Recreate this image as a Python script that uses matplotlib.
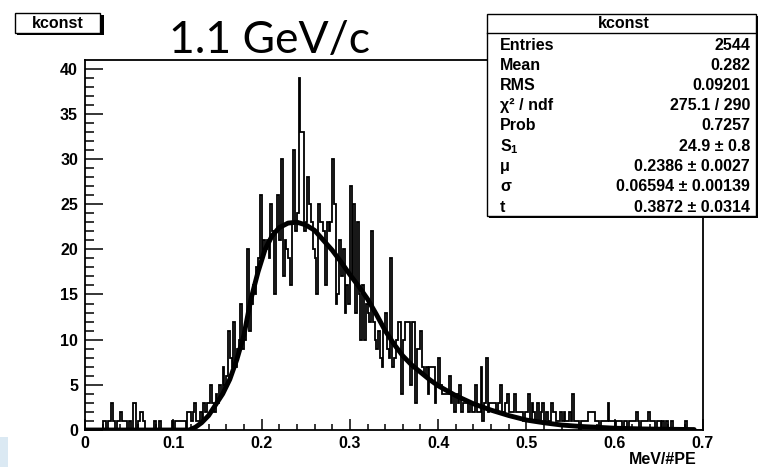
import numpy as np
import matplotlib
matplotlib.use("Agg")
import matplotlib.pyplot as plt
from matplotlib.patches import Rectangle
from matplotlib.ticker import MultipleLocator
from matplotlib.font_manager import FontProperties

plt.rcParams["mathtext.fontset"] = "custom"
plt.rcParams["mathtext.rm"] = "Liberation Sans:bold"
plt.rcParams["mathtext.it"] = "Liberation Sans:bold"
plt.rcParams["mathtext.bf"] = "Liberation Sans:bold"

# ---------------- data ----------------
bin_lo = 0.0
bin_width = 0.002
counts = [
    0, 0, 0, 0, 0, 0, 0, 0, 0, 0,
    1, 1, 0, 1, 1, 3, 1, 0, 1, 1,
    2, 1, 1, 1, 0, 1, 0, 3, 3, 0,
    1, 2, 2, 1, 0, 0, 0, 0, 0, 1,
    0, 0, 1, 0, 0, 0, 0, 0, 0, 1,
    0, 1, 1, 1, 1, 1, 1, 0, 2, 2,
    1, 2, 3, 1, 1, 2, 1, 3, 2, 3,
    3, 5, 3, 2, 4, 3, 5, 4, 7, 5,
    6, 11, 8, 7, 12, 7, 9, 10, 14, 9,
    10, 12, 20, 11, 14, 16, 15, 18, 19, 26,
    19, 21, 20, 21, 19, 25, 22, 15, 22, 26,
    21, 30, 17, 21, 20, 19, 16, 23, 31, 22,
    24, 39, 33, 33, 22, 23, 28, 25, 23, 20,
    19, 15, 25, 23, 23, 22, 16, 23, 22, 23,
    30, 25, 14, 15, 21, 17, 20, 13, 16, 14,
    27, 17, 25, 13, 23, 15, 10, 16, 10, 14,
    13, 12, 22, 12, 10, 9, 11, 8, 7, 11,
    13, 9, 8, 19, 7, 8, 10, 12, 12, 4,
    10, 12, 12, 12, 5, 12, 12, 3, 9, 9,
    11, 7, 6, 7, 4, 7, 7, 7, 3, 5,
    8, 5, 4, 4, 4, 4, 6, 3, 4, 2,
    4, 3, 5, 2, 3, 3, 3, 2, 3, 2,
    2, 5, 2, 2, 7, 1, 3, 8, 2, 3,
    3, 3, 3, 2, 3, 5, 2, 2, 3, 4,
    2, 2, 2, 4, 2, 2, 2, 2, 1, 2,
    2, 4, 1, 3, 2, 1, 3, 1, 2, 3,
    1, 2, 1, 1, 3, 2, 2, 1, 1, 2,
    1, 2, 1, 1, 2, 1, 4, 1, 1, 1,
    0, 1, 1, 1, 1, 2, 2, 2, 2, 1,
    1, 0, 1, 1, 1, 1, 3, 1, 1, 1,
    0, 1, 1, 1, 0, 1, 1, 0, 1, 1,
    1, 1, 2, 1, 0, 1, 1, 1, 1, 2,
    1, 1, 1, 0, 1, 1, 0, 1, 0, 1,
    0, 0, 1, 0, 0, 0, 0, 0, 0, 0,
    1, 0, 0, 0, 0, 0, 0, 0, 0, 0,
]

fit_x = [0.0, 0.118, 0.125, 0.132, 0.140, 0.148, 0.156, 0.164, 0.172, 0.180,
         0.188, 0.196, 0.204, 0.212, 0.220, 0.230, 0.240, 0.250, 0.260, 0.270,
         0.280, 0.290, 0.300, 0.310, 0.320, 0.330, 0.340, 0.350, 0.360, 0.370,
         0.380, 0.390, 0.400, 0.420, 0.440, 0.460, 0.480, 0.500, 0.520, 0.540,
         0.560, 0.580, 0.600, 0.630, 0.660, 0.690]
fit_y = [0.0, 0.0, 0.3, 0.8, 1.6, 2.8, 4.0, 5.6, 7.8, 10.5,
         14.5, 17.5, 20.0, 21.5, 22.4, 22.9, 23.0, 22.7, 22.1, 21.0,
         19.9, 18.6, 17.2, 15.9, 14.5, 12.8, 11.0, 9.5, 8.2, 7.2,
         6.4, 5.6, 4.9, 3.8, 2.9, 2.2, 1.6, 1.1, 0.8, 0.55,
         0.4, 0.3, 0.2, 0.12, 0.08, 0.05]

x_ticks = [0.0, 0.1, 0.2, 0.3, 0.4, 0.5, 0.6, 0.7]
x_tick_labels = ["0", "0.1", "0.2", "0.3", "0.4", "0.5", "0.6", "0.7"]
y_ticks = [0, 5, 10, 15, 20, 25, 30, 35, 40]
y_tick_labels = ["0", "5", "10", "15", "20", "25", "30", "35", "40"]

stat_names = ["Entries", "Mean", "RMS", "χ² / ndf", "Prob",
              r"S$_{1}$", "μ", "σ", "t"]
stat_values = ["2544", "0.282", "0.09201", "275.1 / 290", "0.7257",
               "24.9 ± 0.8", "0.2386 ± 0.0027",
               "0.06594 ± 0.00139", "0.3872 ± 0.0314"]
hist_name = "kconst"
title_text = "1.1 GeV/c"
x_label = "MeV/#PE"

# ---------------- figure ----------------
W, H = 759, 467
fig = plt.figure(figsize=(W / 100, H / 100), dpi=100)
fig.patch.set_facecolor("white")

def fx(x):
    return x / W

def fy(y):
    return 1 - y / H

ax = fig.add_axes([fx(85), fy(430), (703 - 85) / W, (430 - 60) / H])
ax.set_xlim(0, 0.7)
ax.set_ylim(0, 40.95)

edges = bin_lo + bin_width * np.arange(len(counts) + 1)
ax.stairs(counts, edges, color="black", lw=1.3, baseline=None)
ax.plot(fit_x, fit_y, color="black", lw=3.5, solid_capstyle="round", zorder=3)

for s in ax.spines.values():
    s.set_linewidth(1.3)
    s.set_color("black")

ax.set_xticks(x_ticks)
ax.set_xticklabels(x_tick_labels)
ax.set_yticks(y_ticks)
ax.set_yticklabels(y_tick_labels)
ax.xaxis.set_minor_locator(MultipleLocator(0.02))
ax.yaxis.set_minor_locator(MultipleLocator(1))
ax.tick_params(axis="x", which="major", direction="in", length=8, width=1.1, pad=4)
ax.tick_params(axis="x", which="minor", direction="in", length=4, width=1.1)
ax.tick_params(axis="y", which="major", direction="in", length=13, width=1.1, pad=5)
ax.tick_params(axis="y", which="minor", direction="in", length=6.5, width=1.1)
tick_fp = FontProperties(family="Liberation Sans", weight="bold", size=11.5)
for lab in ax.get_xticklabels() + ax.get_yticklabels():
    lab.set_fontproperties(tick_fp)

fig.text(fx(697), fy(460), x_label, ha="right", va="center",
         family="Liberation Sans", weight="bold", size=11.5)

# title
fig.text(fx(169), fy(53), title_text, ha="left", va="baseline",
         family="Lato", weight="normal", size=32, color="black")

# small name box top-left with shadow
fig.patches.append(Rectangle((fx(17), fy(35)), (102 - 15) / W, (35 - 15) / H,
                             transform=fig.transFigure, facecolor="black",
                             edgecolor="none"))
fig.patches.append(Rectangle((fx(15), fy(33)), (100 - 15) / W, (33 - 13) / H,
                             transform=fig.transFigure, facecolor="white",
                             edgecolor="black", lw=1.0))
fig.text(fx(58), fy(23.5), hist_name, ha="center", va="center",
         family="Liberation Sans", weight="bold", size=11.5)

# stats box with shadow
fig.patches.append(Rectangle((fx(489), fy(218)), (758 - 489) / W, (218 - 16) / H,
                             transform=fig.transFigure, facecolor="black",
                             edgecolor="none", zorder=5))
fig.patches.append(Rectangle((fx(487), fy(216)), (756 - 487) / W, (216 - 14) / H,
                             transform=fig.transFigure, facecolor="white",
                             edgecolor="black", lw=1.0, zorder=6))
fig.lines.append(plt.Line2D([fx(487), fx(756)], [fy(33), fy(33)],
                            transform=fig.transFigure, color="black", lw=1.0,
                            zorder=7))
fig.text(fx(624), fy(24), hist_name, ha="center", va="center",
         family="Liberation Sans", weight="bold", size=11.5, zorder=8)
for i, (n, v) in enumerate(zip(stat_names, stat_values)):
    yy = 45 + 20.25 * i
    fig.text(fx(500), fy(yy), n, ha="left", va="center",
             family="Liberation Sans", weight="bold", size=11.5, zorder=8)
    fig.text(fx(750), fy(yy), v, ha="right", va="center",
             family="Liberation Sans", weight="bold", size=11.5, zorder=8)

# light blue patch at lower left edge
fig.patches.append(Rectangle((0, fy(467)), 8 / W, (467 - 437) / H,
                             transform=fig.transFigure, facecolor="#dbe9f3",
                             edgecolor="none"))

fig.savefig("out.png", dpi=100)
